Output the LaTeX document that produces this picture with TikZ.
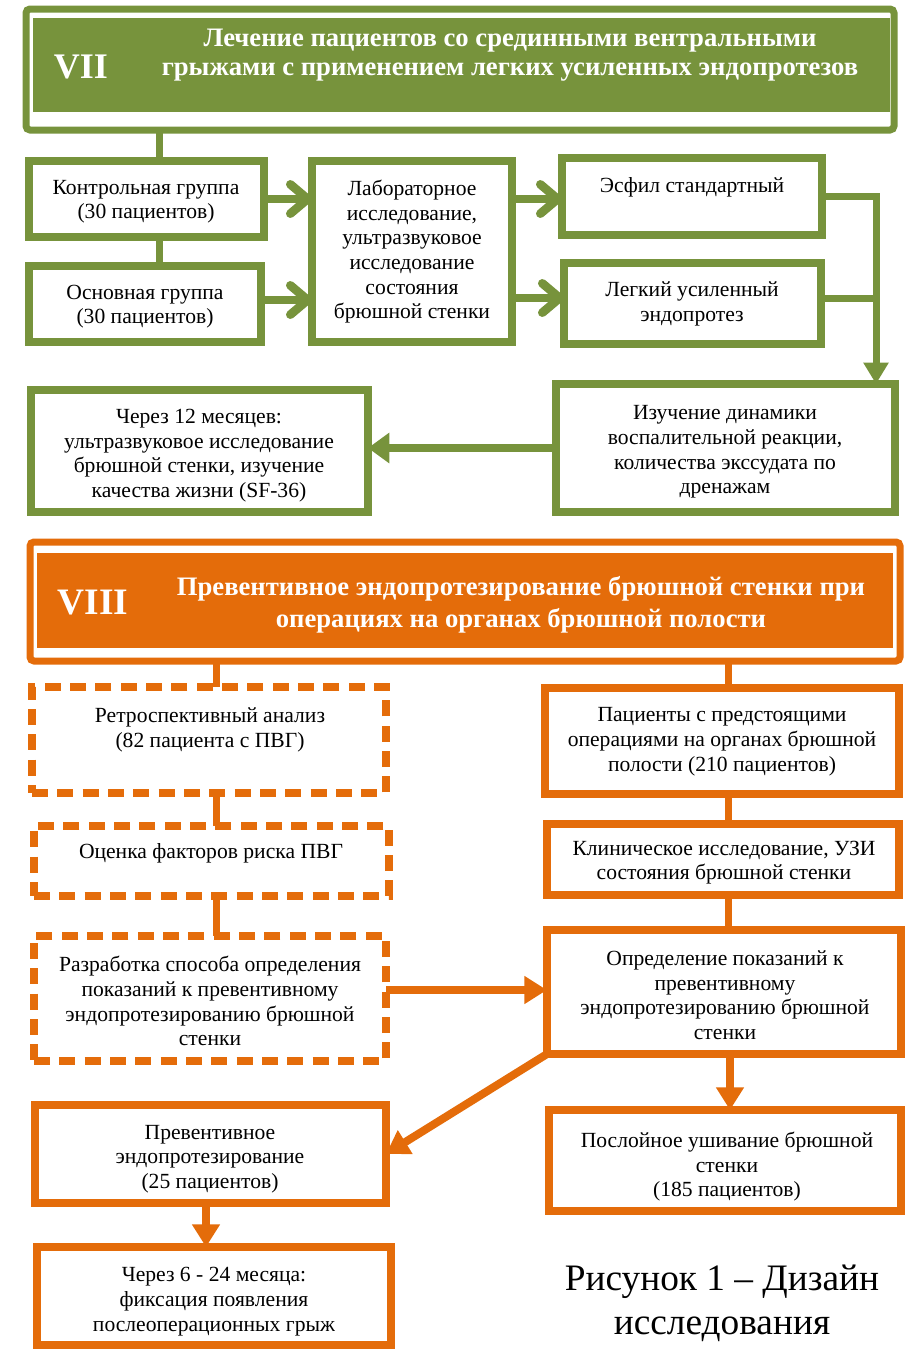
\documentclass[tikz,border=0pt]{standalone}
\usepackage{fontspec}
\setmainfont{Liberation Serif}
\usetikzlibrary{arrows.meta}
\definecolor{gr}{HTML}{77933C}
\definecolor{og}{HTML}{E46C0A}
\newcommand\bx[6]{\node[#6, minimum width={(#4-#2)*0.75pt}, minimum height={(#5-#3)*0.75pt}] (#1) at ({(#2+#4)/2},{(#3+#5)/2}) {};}
\tikzset{
  boxbase/.style={inner sep=0pt, outer sep=0pt, line width=5.5pt},
  gbox/.style={boxbase, draw=gr},
  obox/.style={boxbase, draw=og},
  dbox/.style={boxbase, draw=og, line width=6pt, dash pattern=on 12pt off 7pt},
  txt/.style={font=\fontsize{16.2}{18.5}\selectfont, align=center, inner sep=0pt, yshift=-2pt},
  gcon/.style={draw=gr, line width=5.25pt},
  ocon/.style={draw=og, line width=5.25pt},
  chev/.style={gcon, line width=6.5pt, -{Straight Barb[round, length=13pt, width=22pt]}},
  gtri/.style={gcon, line width=6.5pt, -{Triangle[length=16pt, width=22pt]}},
  gdown/.style={gcon, -{Triangle[length=16pt, width=18pt]}},
  otri/.style={ocon, line width=6pt, -{Triangle[length=17pt, width=20pt]}},
}
\begin{document}
\begin{tikzpicture}[x=0.75pt,y=-0.75pt]
\useasboundingbox (0,0) rectangle (906,1349);
% helper coordinates
\coordinate (x159) at (159,0);
\coordinate (x876) at (876,0);
\coordinate (x216) at (216,0);
\coordinate (x728) at (728,0);
\coordinate (x730) at (730,0);
\coordinate (x206) at (206,0);
\coordinate (y199) at (0,199);
\coordinate (y300) at (0,300);
\coordinate (y298) at (0,298);
\coordinate (y990) at (0,990);

% ===== VII header =====
\bx{h1}{26}{9}{894}{130}{gbox, line width=5.25pt, rounded corners=3pt}
\node[fill=gr, inner sep=0pt, minimum width={(890-33)*0.75pt}, minimum height={(112-18)*0.75pt}] (h1in) at (461.5,65) {};
\node[text=white, font=\bfseries\fontsize{27}{27}\selectfont, inner sep=0pt] (h1num) at (81,67) {VII};
\node[text=white, font=\bfseries\fontsize{20}{22}\selectfont, align=center, inner sep=0pt] (h1t) at (510,55) {Лечение пациентов со срединными вентральными\\грыжами с применением легких усиленных эндопротезов};

% green boxes
\bx{b1}{29}{161}{264}{237}{gbox}
\bx{b2}{29}{266}{261}{342}{gbox}
\bx{b3}{312}{161}{512}{342}{gbox}
\bx{b4}{562}{158}{822}{235}{gbox}
\bx{b5}{564}{263}{821}{344}{gbox}
\bx{b6}{556}{384}{895}{512}{gbox}
\bx{b7}{31}{390}{368}{512}{gbox}

\node[txt] (t1) at (146,199) {Контрольная группа\\(30 пациентов)};
\node[txt] (t2) at (145,304) {Основная группа\\(30 пациентов)};
\node[txt] (t3) at (412,249) {Лабораторное\\исследование,\\ультразвуковое\\исследование\\состояния\\брюшной стенки};
\node[txt] (t4) at (692,185) {Эсфил стандартный};
\node[txt] (t5) at (692,301) {Легкий усиленный\\эндопротез};
\node[txt] (t6) at (725,449.5) {Изучение динамики\\воспалительной реакции,\\количества экссудата по\\дренажам};
\node[txt] (t7) at (199,453) {Через 12 месяцев:\\ультразвуковое исследование\\брюшной стенки, изучение\\качества жизни (SF-36)};

% green connectors
\draw[gcon] (h1.south -| x159) -- (b1.north -| x159);
\draw[gcon] (b1.south -| x159) -- (b2.north -| x159);
\draw[chev] (b1.east |- y199) -- (b3.west |- y199);
\draw[chev] (b2.east |- y300) -- (b3.west |- y300);
\draw[chev] (b3.east |- y199) -- (b4.west |- y199);
\draw[chev] (b3.east |- y298) -- (b5.west |- y298);
\draw[gdown] (b4.east) -| (b6.north -| x876);
\draw[gcon] (b5.east |- y298) -- (x876 |- y298);
\draw[gtri] (b6.west) -- (b6.west -| b7.east);

% ===== VIII header =====
\bx{h2}{30}{542}{900}{661}{obox, line width=5.25pt, rounded corners=3pt}
\node[fill=og, inner sep=0pt, minimum width={(893-37)*0.75pt}, minimum height={(648-553)*0.75pt}] (h2in) at (465,600.5) {};
\node[text=white, font=\bfseries\fontsize{28}{28}\selectfont, inner sep=0pt] (h2num) at (93,603) {VIII};
\node[text=white, font=\bfseries\fontsize{20}{24}\selectfont, align=center, inner sep=0pt] (h2t) at (521,605) {Превентивное эндопротезирование брюшной стенки при\\операциях на органах брюшной полости};

% orange boxes
\bx{d1}{32}{687}{386}{793}{dbox}
\bx{d2}{34}{826}{389}{896}{dbox}
\bx{d3}{34}{936}{386}{1061}{dbox}
\bx{r1}{545}{688}{899}{794}{obox}
\bx{r2}{547}{824}{899}{895}{obox}
\bx{r3}{547}{930}{901}{1054}{obox}
\bx{l4}{35}{1105}{386}{1203}{obox}
\bx{r5}{549}{1110}{901}{1211}{obox}
\bx{l5}{37}{1247}{391}{1345}{obox}

\node[txt] (s1) at (210,727) {Ретроспективный анализ\\(82 пациента с ПВГ)};
\node[txt] (s2) at (211,851) {Оценка факторов риска ПВГ};
\node[txt] (s3) at (210,998.5) {Разработка способа определения\\показаний к превентивному\\эндопротезированию брюшной\\стенки};
\node[txt] (s4) at (722,739) {Пациенты с предстоящими\\операциями на органах брюшной\\полости (210 пациентов)};
\node[txt] (s5) at (724,860) {Клиническое исследование, УЗИ\\состояния брюшной стенки};
\node[txt] (s6) at (725,992.5) {Определение показаний к\\превентивному\\эндопротезированию брюшной\\стенки};
\node[txt] (s7) at (210,1156.5) {Превентивное\\эндопротезирование\\(25 пациентов)};
\node[txt] (s8) at (727,1164) {Послойное ушивание брюшной\\стенки\\(185 пациентов)};
\node[txt] (s9) at (214,1299) {Через 6 - 24 месяца:\\фиксация появления\\послеоперационных грыж};

% orange connectors
\draw[ocon] (h2.south -| x216) -- (d1.north -| x216);
\draw[ocon] (h2.south -| x728) -- (r1.north -| x728);
\draw[ocon] (d1.south -| x216) -- (d2.north -| x216);
\draw[ocon] (d2.south -| x216) -- (d3.north -| x216);
\draw[ocon] (r1.south -| x728) -- (r2.north -| x728);
\draw[ocon] (r2.south -| x728) -- (r3.north -| x728);
\draw[otri] (d3.east |- y990) -- (r3.west |- y990);
\draw[otri] (r3.south -| x730) -- (r5.north -| x730);
\draw[otri] (r3.south west) -- (l4.east);
\draw[otri] (l4.south -| x206) -- (l5.north -| x206);

% caption
\node[font=\fontsize{28}{33}\selectfont, align=center, inner sep=0pt] (cap) at (722,1303) {Рисунок 1 – Дизайн\\исследования};
\end{tikzpicture}
\end{document}
